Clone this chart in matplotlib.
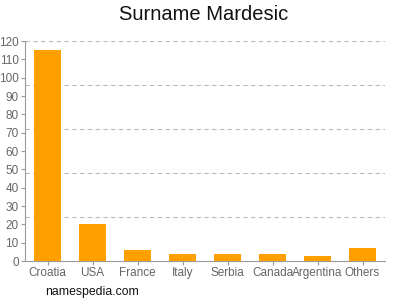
import matplotlib
matplotlib.use('Agg')
import matplotlib.pyplot as plt

plt.rcParams['font.family'] = ['Liberation Sans', 'DejaVu Sans']

countries = ['Croatia', 'USA', 'France', 'Italy', 'Serbia', 'Canada', 'Argentina', 'Others']
counts = [115, 20, 6, 4, 4, 4, 3, 7]
y_ticks = list(range(0, 121, 10))
grid_levels = [24, 48, 72, 96, 120]

BAR = '#FFA000'
GRAY = '#999999'
TXT = '#666666'

fig = plt.figure(figsize=(4, 3), dpi=100)
ax = fig.add_axes([0.0625, 0.13, 0.9, 0.7333])

ax.bar(range(len(countries)), counts, width=0.62, color=BAR, zorder=3)

for g in grid_levels:
    ax.axhline(g, color='#BBBBBB', lw=0.8, ls=(0, (4, 3)), zorder=1)

ax.set_xlim(-0.5, len(countries) - 0.5)
ax.set_ylim(0, 120)
ax.set_yticks(y_ticks)
ax.set_xticks(range(len(countries)))
ax.set_xticklabels(countries)
ax.tick_params(axis='both', labelsize=8.5, colors=GRAY, labelcolor=TXT, length=3, width=0.8, pad=1.5)

for s in ['top', 'right']:
    ax.spines[s].set_visible(False)
for s in ['left', 'bottom']:
    ax.spines[s].set_color(GRAY)
    ax.spines[s].set_linewidth(0.8)

fig.text(0.51, 0.95, 'Surname Mardesic', ha='center', va='center', fontsize=14.5, color='#111111')
fig.text(0.113, 0.027, 'namespedia.com', ha='left', va='center', fontsize=8.8, color='#111111')

fig.savefig('out.png', dpi=100, facecolor='white')
